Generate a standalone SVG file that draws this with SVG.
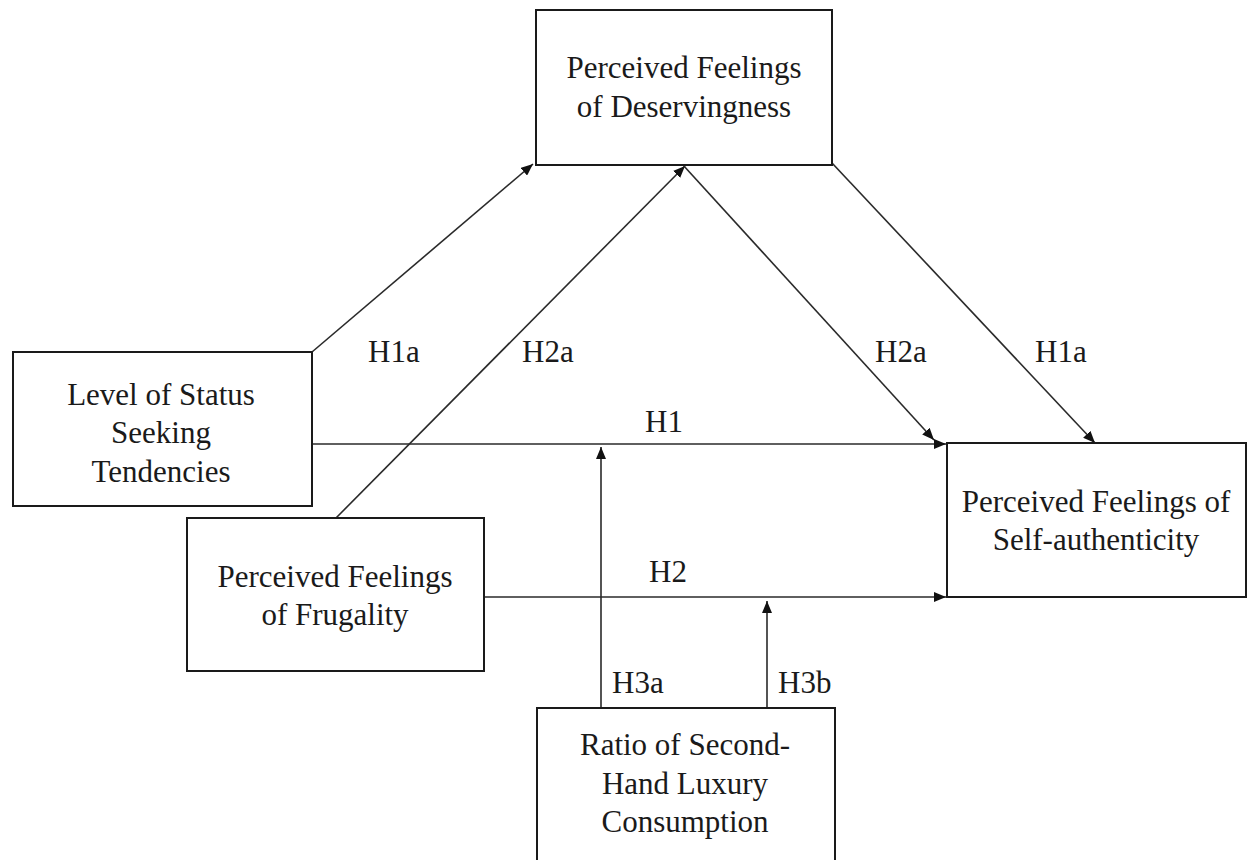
<svg xmlns="http://www.w3.org/2000/svg" width="1255" height="860" viewBox="0 0 1255 860">
<defs>
<style>
.box{fill:#fff;stroke:#1a1a1a;stroke-width:2}
.t{font-family:"Liberation Serif","Times New Roman",serif;font-size:31px;fill:#1a1a1a;text-anchor:middle}
.lbl{font-family:"Liberation Serif","Times New Roman",serif;font-size:31px;fill:#1a1a1a}
.c{stroke:#2a2a2a;stroke-width:1.6;fill:none;marker-end:url(#ah)}
</style>
<marker id="ah" viewBox="0 0 12 10" refX="12" refY="5" markerWidth="12" markerHeight="10" markerUnits="userSpaceOnUse" orient="auto">
<path d="M0,0 L12,5 L0,10 z" fill="#111"/>
</marker>
</defs>
<rect width="1255" height="860" fill="#fff"/>
<g id="connectors">
<line class="c" x1="312" y1="352" x2="533" y2="164"/>
<line class="c" x1="336" y1="518" x2="685" y2="166"/>
<line class="c" x1="683" y1="165" x2="934" y2="440"/>
<line class="c" x1="832" y1="163" x2="1095" y2="443"/>
<line class="c" x1="312" y1="444" x2="946" y2="444"/>
<line class="c" x1="484" y1="597" x2="946" y2="597"/>
<line class="c" x1="601" y1="708" x2="601" y2="447"/>
<line class="c" x1="767" y1="708" x2="767" y2="601"/>
</g>
<g id="labels">
<text class="lbl" x="368" y="362">H1a</text>
<text class="lbl" x="522" y="362">H2a</text>
<text class="lbl" x="875" y="362">H2a</text>
<text class="lbl" x="1035" y="362">H1a</text>
<text class="lbl" x="645" y="432">H1</text>
<text class="lbl" x="649" y="582">H2</text>
<text class="lbl" x="612" y="693">H3a</text>
<text class="lbl" x="778" y="693">H3b</text>
</g>
<g id="deservingness">
<rect class="box" x="536" y="10" width="296" height="155"/>
<text class="t" x="684" y="78">Perceived Feelings</text>
<text class="t" x="684" y="117">of Deservingness</text>
</g>
<g id="status">
<rect class="box" x="13" y="352" width="299" height="154"/>
<text class="t" x="161" y="405">Level of Status</text>
<text class="t" x="161" y="443">Seeking</text>
<text class="t" x="161" y="482">Tendencies</text>
</g>
<g id="frugality">
<rect class="box" x="187" y="518" width="297" height="153"/>
<text class="t" x="335" y="587">Perceived Feelings</text>
<text class="t" x="335" y="625">of Frugality</text>
</g>
<g id="authenticity">
<rect class="box" x="947" y="443" width="299" height="154"/>
<text class="t" x="1096" y="512">Perceived Feelings of</text>
<text class="t" x="1096" y="550">Self-authenticity</text>
</g>
<g id="ratio">
<rect class="box" x="537" y="708" width="298" height="170"/>
<text class="t" x="685" y="755">Ratio of Second-</text>
<text class="t" x="685" y="794">Hand Luxury</text>
<text class="t" x="685" y="832">Consumption</text>
</g>
</svg>
